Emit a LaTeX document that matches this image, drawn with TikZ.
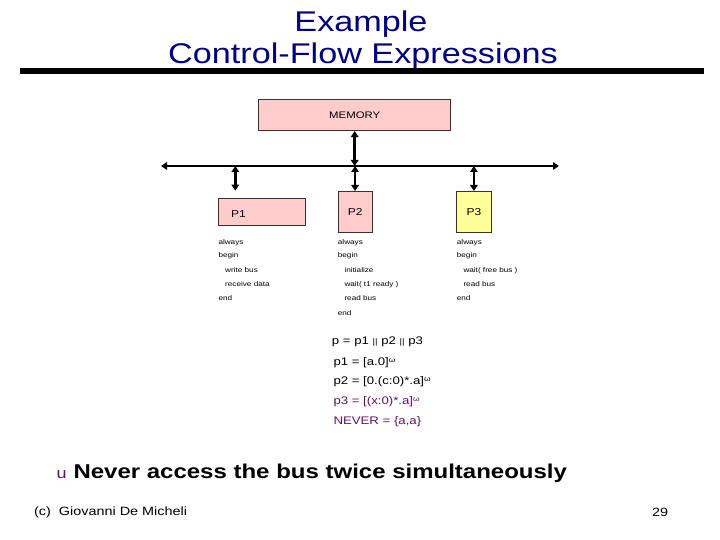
\documentclass[tikz,border=0pt]{standalone}
\usepackage{fontspec}
\setmainfont{Liberation Sans}[FakeStretch=1.2]
\usetikzlibrary{arrows.meta}
\definecolor{navy}{RGB}{0,0,128}
\definecolor{pinkf}{RGB}{255,204,204}
\definecolor{yelf}{RGB}{255,255,153}
\definecolor{purp}{RGB}{96,16,96}
\newcommand{\fs}[1]{\fontsize{#1}{#1}\selectfont}
\newcommand{\omg}{\raisebox{3pt}{\fs{7}ω}}
\begin{document}
\begin{tikzpicture}[x=1pt,y=-1pt,
  box/.style={draw=black!80, line width=0.8pt, inner sep=0pt, anchor=north west},
  code/.style={anchor=base west, inner sep=0pt, font=\fs{6.8}},
  expr/.style={anchor=base west, inner sep=0pt, font=\fs{11}},
  link/.style={line width=2.6pt, {Triangle[length=6pt,width=7.5pt]}-{Triangle[length=6pt,width=7.5pt]}}]
\useasboundingbox (0,0) rectangle (720,540);
% title
\node[navy, anchor=base, inner sep=0pt, font=\fs{28.5}] (t1) at (361,32) {Example};
\node[navy, anchor=base, inner sep=0pt, font=\fs{28.5}] (t2) at (363,63.5) {Control-Flow Expressions};
\draw[line width=5.5pt] (20,71) -- (704,71);
% boxes
\node[box, fill=pinkf, minimum width=192pt, minimum height=31pt, font=\fs{9.5}] (mem) at (258.3,99.3) {MEMORY};
\node[box, fill=pinkf, minimum width=87pt, minimum height=27pt] (p1) at (218.3,198.3) {};
\node[anchor=base west, inner sep=0pt, font=\fs{10}] (p1t) at (231,217.5) {P1};
\node[box, fill=pinkf, minimum width=34pt, minimum height=41.3pt, font=\fs{10}] (p2) at (337.7,191) {P2};
\node[box, fill=yelf, minimum width=34.4pt, minimum height=41.3pt, font=\fs{10}] (p3) at (456.3,191) {P3};
% bus
\coordinate (busL) at (161,166);
\coordinate (busR) at (559,166);
\coordinate (a1) at (235.3,166);
\coordinate (a1e) at (235.3,190.7);
\draw[link] (busL) -- (busR);
\draw[link] (mem.south) -- (mem.south |- busL);
\draw[link] (a1) -- (a1e);
\draw[link] (p2.north |- busL) -- (p2.north);
\draw[link] (p3.north |- busL) -- (p3.north);
% code column 1
\node[code] (c11) at (218.3,244) {always};
\node[code] (c12) at (218.3,257.5) {begin};
\node[code] (c13) at (225,272.3) {write bus};
\node[code] (c14) at (225,286.3) {receive data};
\node[code] (c15) at (218.3,300.6) {end};
% code column 2
\node[code] (c21) at (337.7,244) {always};
\node[code] (c22) at (337.7,257.5) {begin};
\node[code] (c23) at (344.3,272.3) {initialize};
\node[code] (c24) at (344.3,286.3) {wait( t1 ready )};
\node[code] (c25) at (344.3,300.6) {read bus};
\node[code] (c26) at (337.7,315) {end};
% code column 3
\node[code] (c31) at (456.7,244) {always};
\node[code] (c32) at (456.7,257.5) {begin};
\node[code] (c33) at (463.3,272.3) {wait( free bus )};
\node[code] (c34) at (463.3,286.3) {read bus};
\node[code] (c35) at (456.7,300.6) {end};
% expressions
\node[expr] (e0) at (331.7,344.5) {p = p1 {\fs{8}||} p2 {\fs{8}||} p3};
\node[expr] (e1) at (333.3,365) {p1 = [a.0]\omg};
\node[expr] (e2) at (333.3,384.3) {p2 = [0.(c:0)*.a]\omg};
\node[expr, text=purp] (e3) at (333.3,404.3) {p3 = [(x:0)*.a]\omg};
\node[expr, text=purp] (e4) at (333.3,424.3) {NEVER = \{a,a\}};
% bottom
\node[anchor=base west, inner sep=0pt, text=purp, font=\fs{15}] (bu) at (56.5,478.3) {u};
\node[anchor=base west, inner sep=0pt, font=\fs{20}\bfseries] (nv) at (73.3,478.3) {Never access the bus twice simultaneously};
\node[anchor=base west, inner sep=0pt, font=\fs{12}] (ft) at (34,515.5) {(c)\ \ Giovanni De Micheli};
\node[anchor=base east, inner sep=0pt, font=\fs{12}] (pg) at (668.3,516) {29};
\end{tikzpicture}
\end{document}
